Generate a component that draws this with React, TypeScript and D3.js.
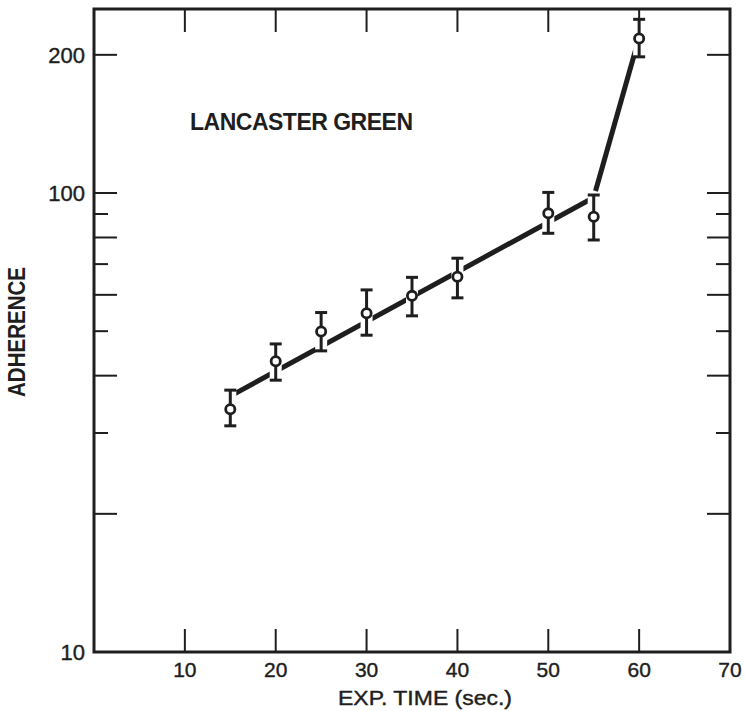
import React from "react";
import * as d3 from "d3";

const times = [15, 20, 25, 30, 35, 40, 50, 55, 60];
const adherence = [33.8, 43.0, 49.9, 54.7, 59.7, 65.7, 90.3, 88.8, 217];
const errLow = [31.1, 39.1, 45.3, 49.0, 54.0, 59.1, 81.7, 79.0, 198];
const errHigh = [37.2, 46.9, 54.9, 61.5, 65.5, 72.1, 100.3, 99.0, 239];

const fitTimes = [15, 55];
const fitValues = [36.1, 97.8];
const jumpTimes = [55.2, 59.7];
const jumpValues = [101, 208];

const xTicks = [10, 20, 30, 40, 50, 60, 70];
const xInnerTicks = [10, 20, 30, 40, 50, 60];
const yTicks = [20, 30, 40, 50, 60, 70, 80, 90, 100, 200];
const yLongTicks = [20, 40, 60, 80, 100, 200];
const yLabels = [10, 100, 200];

const W = 746;
const H = 711;
const L = 94, R = 730, T = 9, B = 652;
const INK = "#1e1e1e";
const FONT = "'Liberation Sans', Arial, sans-serif";

export default function App() {
  const x = d3.scaleLinear().domain([0, 70]).range([L, R]);
  const y = d3.scaleLog().domain([10, 251.7]).range([B, T]);
  const line = d3
    .line<[number, number]>()
    .x((d) => x(d[0]))
    .y((d) => y(d[1]));
  const fit = fitTimes.map((t, i) => [t, fitValues[i]] as [number, number]);
  const jump = jumpTimes.map((t, i) => [t, jumpValues[i]] as [number, number]);
  const cap = 6;

  return (
    <svg
      width={W}
      height={H}
      style={{ position: "absolute", left: 0, top: 0, background: "#fff" }}
    >
      <rect x={0} y={0} width={W} height={H} fill="#fff" />
      <rect x={L} y={T} width={R - L} height={B - T} fill="none" stroke={INK} strokeWidth={3} />
      {xInnerTicks.map((t) => (
        <g key={"xt" + t}>
          <line x1={x(t)} x2={x(t)} y1={B} y2={B - 23} stroke={INK} strokeWidth={2} />
          <line x1={x(t)} x2={x(t)} y1={T} y2={T + 23} stroke={INK} strokeWidth={2} />
        </g>
      ))}
      {xTicks.map((t) => (
        <text
          key={"xl" + t}
          x={x(t)}
          y={677}
          textAnchor="middle"
          fontFamily={FONT}
          fontSize={21}
          fill={INK}
          stroke={INK}
          strokeWidth={0.4}
        >
          {t}
        </text>
      ))}
      {yTicks.map((t) => {
        const len = yLongTicks.includes(t) ? 23 : 14;
        return (
          <g key={"yt" + t}>
            <line x1={L} x2={L + len} y1={y(t)} y2={y(t)} stroke={INK} strokeWidth={2} />
            <line x1={R} x2={R - len} y1={y(t)} y2={y(t)} stroke={INK} strokeWidth={2} />
          </g>
        );
      })}
      {yLabels.map((t) => (
        <text
          key={"yl" + t}
          x={85}
          y={y(t) + 8}
          textAnchor="end"
          fontFamily={FONT}
          fontSize={22}
          fill={INK}
          stroke={INK}
          strokeWidth={0.4}
        >
          {t}
        </text>
      ))}
      <text
        x={425}
        y={705}
        textAnchor="middle"
        fontFamily={FONT}
        fontSize={20}
        fill={INK}
        stroke={INK}
        strokeWidth={0.4}
        textLength={174}
        lengthAdjust="spacingAndGlyphs"
      >
        EXP. TIME (sec.)
      </text>
      <text
        transform={`translate(25,332) rotate(-90)`}
        textAnchor="middle"
        fontFamily={FONT}
        fontWeight="bold"
        fontSize={23}
        fill={INK}
        textLength={130}
        lengthAdjust="spacingAndGlyphs"
      >
        ADHERENCE
      </text>
      <text
        x={190}
        y={130}
        fontFamily={FONT}
        fontWeight="bold"
        fontSize={23}
        fill={INK}
        textLength={223}
        lengthAdjust="spacing"
      >
        LANCASTER GREEN
      </text>
      <path d={line(fit) || ""} fill="none" stroke={INK} strokeWidth={5} />
      <path d={line(jump) || ""} fill="none" stroke={INK} strokeWidth={5} />
      {times.map((t, i) => (
        <line
          key={"halo" + t}
          x1={x(t)}
          x2={x(t)}
          y1={y(errHigh[i]) + 1}
          y2={y(errLow[i]) - 1}
          stroke="#fff"
          strokeWidth={12}
        />
      ))}
      {times.map((t, i) => (
        <g key={"eb" + t}>
          <line x1={x(t)} x2={x(t)} y1={y(errHigh[i])} y2={y(errLow[i])} stroke={INK} strokeWidth={3} />
          <line x1={x(t) - cap} x2={x(t) + cap} y1={y(errHigh[i])} y2={y(errHigh[i])} stroke={INK} strokeWidth={3} />
          <line x1={x(t) - cap} x2={x(t) + cap} y1={y(errLow[i])} y2={y(errLow[i])} stroke={INK} strokeWidth={3} />
          <circle cx={x(t)} cy={y(adherence[i])} r={4.6} fill="#fff" stroke={INK} strokeWidth={2.8} />
        </g>
      ))}
    </svg>
  );
}
